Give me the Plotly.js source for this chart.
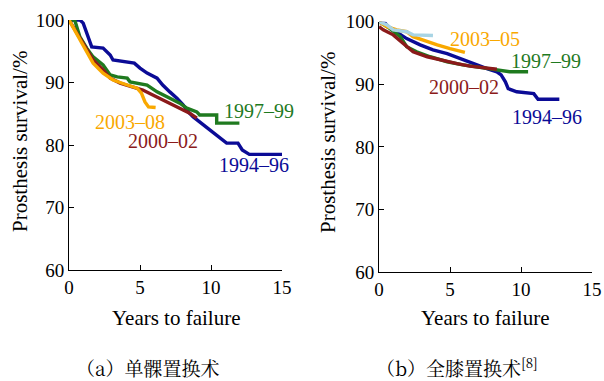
<!DOCTYPE html>
<html><head><meta charset="utf-8">
<script src="https://cdn.plot.ly/plotly-3.0.1.min.js"></script>
<style>html,body{margin:0;padding:0;background:#fff}#c{width:604px;height:381px}</style>
</head><body>
<div id="c"></div>
<script>
// ---- Panel (a) unicompartmental knee ----
var a1994x = [0, 0.77, 1.0, 1.25, 1.6, 2.4, 2.9, 3.1, 4.6, 5.0, 5.5, 6.2, 6.6, 7.1, 7.6, 8.05, 8.4, 8.75, 9.2, 9.7, 10.2, 10.6, 11.1, 11.9, 12.2, 12.7, 15.0];
var a1994y = [100, 100, 99.5, 97.9, 95.7, 95.5, 94.4, 93.6, 93.1, 92.3, 91.5, 90.7, 89.6, 88.5, 87.5, 86.4, 85.3, 84.5, 83.7, 82.7, 81.9, 81.1, 80.3, 80.3, 79.2, 78.5, 78.5];
var a1997x = [0, 0.4, 0.77, 1.0, 1.25, 1.7, 2.4, 2.65, 2.9, 3.4, 4.1, 4.3, 5.5, 6.2, 6.9, 7.8, 8.3, 9.0, 9.2, 10.4, 10.4, 12.0];
var a1997y = [100, 100, 97.3, 96.3, 95.5, 94.1, 92.8, 92.0, 91.2, 90.9, 90.7, 90.1, 89.6, 88.5, 87.7, 86.7, 85.9, 85.3, 84.8, 84.8, 83.5, 83.5];
var a2000x = [0, 0.77, 1.25, 1.7, 2.4, 2.9, 3.6, 4.5, 5.2, 5.9, 6.6, 7.3, 8.1, 8.5, 9.0];
var a2000y = [100, 97.1, 95.2, 93.6, 92.0, 90.7, 89.9, 89.3, 88.8, 88.0, 87.2, 86.4, 85.6, 85.1, 84.3];
var a2003x = [0, 0.77, 1.25, 1.7, 2.4, 3.1, 4.1, 4.8, 5.1, 5.35, 5.6, 6.1];
var a2003y = [100, 96.8, 94.9, 93.1, 91.5, 90.4, 89.6, 89.1, 88.3, 86.9, 86.1, 86.0];

// ---- Panel (b) total knee ----
var b1994x = [0, 0.42, 0.66, 1.25, 1.95, 2.9, 3.8, 4.8, 5.7, 6.6, 7.6, 8.3, 8.6, 8.9, 9.1, 9.7, 10.9, 11.2, 12.7];
var b1994y = [100, 99.8, 99.2, 98.4, 97.3, 96.3, 95.5, 94.9, 94.1, 93.3, 92.5, 92.0, 91.5, 90.4, 89.3, 88.8, 88.5, 87.6, 87.6];
var b1997x = [0, 0.77, 1.5, 1.95, 2.65, 3.6, 4.8, 5.9, 7.1, 8.5, 9.2, 10.5];
var b1997y = [100, 98.9, 97.6, 96.0, 95.2, 94.4, 93.6, 93.1, 92.7, 92.3, 92.0, 92.0];
var b2000x = [0, 0.3, 1.0, 1.7, 2.4, 3.4, 4.3, 5.5, 6.4, 7.6, 8.3];
var b2000y = [99.2, 98.7, 97.9, 96.5, 95.2, 94.4, 93.9, 93.3, 92.9, 92.5, 92.4];
var b2003x = [0, 0.55, 1.25, 1.95, 2.4, 3.4, 4.1, 5.0, 6.05];
var b2003y = [100, 99.2, 98.7, 98.4, 97.6, 96.8, 96.3, 95.7, 95.1];
var b2006x = [0, 0.55, 1.0, 1.95, 2.4, 3.8];
var b2006y = [100, 99.5, 98.7, 98.4, 97.9, 97.8];

var xTicks = [0, 5, 10, 15];
var yTicks = [60, 70, 80, 90, 100];
var xTitle = 'Years to failure';
var yTitle = 'Prosthesis survival/%';
var captionA = '（a）单髁置换术';
var captionB = '（b）全膝置换术<sup>[8]</sup>';

var cBlue = '#0b0b96', cGreen = '#1f7a1f', cRed = '#8b1a1a', cOrange = '#f9a800', cLight = '#a8d4e4';
var LW = 3.4;
function tr(x, y, c, ax) {
  return {x: x, y: y, mode: 'lines', line: {color: c, width: LW}, xaxis: ax[0], yaxis: ax[1], hoverinfo: 'skip', showlegend: false};
}
var A = ['x', 'y'], B = ['x2', 'y2'];
var data = [
  tr(a1994x, a1994y, cBlue, A), tr(a1997x, a1997y, cGreen, A), tr(a2000x, a2000y, cRed, A), tr(a2003x, a2003y, cOrange, A),
  tr(b1994x, b1994y, cBlue, B), tr(b1997x, b1997y, cGreen, B), tr(b2000x, b2000y, cRed, B), tr(b2003x, b2003y, cOrange, B), tr(b2006x, b2006y, cLight, B)
];

var SERIF = 'Liberation Serif';
var CJK = 'Noto Serif CJK SC';
function xa(dom) {
  return {domain: dom, range: [0, 15], tickvals: xTicks, ticks: 'inside', ticklen: 5, tickcolor: '#000', tickwidth: 1,
    showline: true, linecolor: '#000', linewidth: 1, showgrid: false, zeroline: false, fixedrange: true,
    tickfont: {family: SERIF, size: 19, color: '#000'}};
}
function ya(dom, anchor) {
  return {domain: dom, range: [60, 100], tickvals: yTicks, ticks: 'inside', ticklen: 5, tickcolor: '#000', tickwidth: 1,
    showline: true, linecolor: '#000', linewidth: 1, showgrid: false, zeroline: false, fixedrange: true, anchor: anchor,
    tickfont: {family: SERIF, size: 19, color: '#000'}};
}
function lab(t, x, y, c, ax) {
  return {text: t, x: x, y: y, xref: ax[0], yref: ax[1], showarrow: false, borderpad: 0, font: {family: SERIF, size: 20, color: c}};
}
function pap(t, x, y, opts) {
  var o = {text: t, x: x / 604, y: 1 - y / 381, xref: 'paper', yref: 'paper', showarrow: false, borderpad: 0,
    font: {family: SERIF, size: 21, color: '#000'}, xanchor: 'center', yanchor: 'middle'};
  for (var k in opts) o[k] = opts[k];
  return o;
}
var layout = {
  width: 604, height: 381, margin: {l: 0, r: 0, t: 0, b: 0}, paper_bgcolor: '#fff', plot_bgcolor: 'rgba(0,0,0,0)',
  showlegend: false,
  font: {family: SERIF, size: 19, color: '#000'},
  xaxis: Object.assign(xa([69 / 604, 282 / 604]), {anchor: 'y'}),
  yaxis: ya([(381 - 270) / 381, (381 - 20) / 381], 'x'),
  xaxis2: Object.assign(xa([379 / 604, 592 / 604]), {anchor: 'y2'}),
  yaxis2: ya([(381 - 272) / 381, (381 - 21.7) / 381], 'x2'),
  annotations: [
    lab('1997–99', 13.4, 85.4, cGreen, A), lab('2003–08', 4.33, 83.7, cOrange, A),
    lab('2000–02', 6.6, 80.6, cRed, A), lab('1994–96', 13.0, 76.8, cBlue, A),
    lab('2006–09', 5.35, 100.1, cLight, B), lab('2003–05', 7.46, 97.2, cOrange, B),
    lab('1997–99', 11.76, 93.7, cGreen, B), lab('2000–02', 6.0, 89.5, cRed, B), lab('1994–96', 11.8, 84.7, cBlue, B),
    pap(xTitle, 176.7, 318), pap(xTitle, 485, 318),
    pap(yTitle, 20, 142, {textangle: -90}), pap(yTitle, 328, 143, {textangle: -90}),
    pap(captionA, 147.5, 367, {font: {family: CJK, size: 19, color: '#000'}}),
    pap(captionB, 457, 367, {font: {family: CJK, size: 19, color: '#000'}})
  ]
};
Plotly.newPlot('c', data, layout, {displayModeBar: false});
</script></body></html>
